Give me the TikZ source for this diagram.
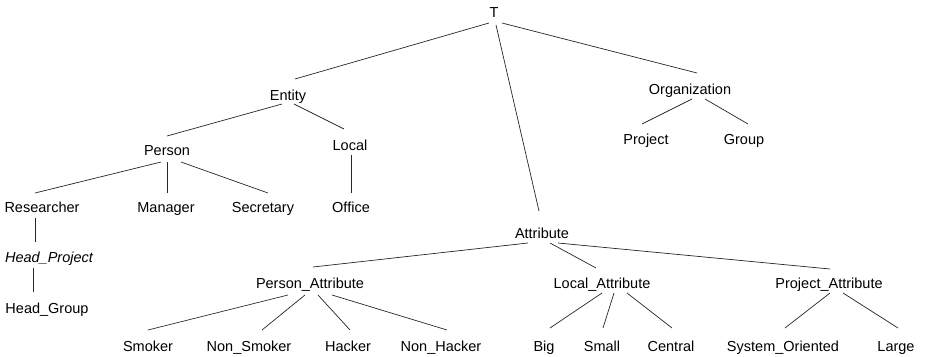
\documentclass[tikz,border=0pt]{standalone}
\usepackage{fontspec}
\setmainfont{Liberation Sans}
\usetikzlibrary{calc}
% connector between two named nodes, end points given relative to their baselines
\newcommand\treeedge[4]{\draw[link] ($(#1.base)+(#2)$) -- ($(#3.base)+(#4)$);}
\begin{document}
\begin{tikzpicture}[x=1pt,y=-1pt,
  concept/.style={anchor=base,inner sep=0pt,font=\fontsize{14.5}{17}\selectfont},
  link/.style={line width=0.7pt,black!85}]
\useasboundingbox (0,0) rectangle (926,356);
% top levels
\node[concept] (T)   at (494,17)  {T};
\node[concept] (ent) at (288,100) {Entity};
\node[concept] (org) at (690,94)  {Organization};
\node[concept] (per) at (167,155) {Person};
\node[concept] (loc) at (350,150) {Local};
\node[concept] (res) at (42,212)  {Researcher};
\node[concept] (man) at (166,212) {Manager};
\node[concept] (sec) at (263,212) {Secretary};
\node[concept] (off) at (351,212) {Office};
\node[concept] (prj) at (646,144) {Project};
\node[concept] (grp) at (744,144) {Group};
\node[concept] (hp)  at (49,262)  {\itshape Head\_Project};
\node[concept] (hg)  at (47,313)  {Head\_Group};
% attributes
\node[concept] (att) at (542,238) {Attribute};
\node[concept] (pa)  at (310,288) {Person\_Attribute};
\node[concept] (la)  at (602,288) {Local\_Attribute};
\node[concept] (pra) at (829,288) {Project\_Attribute};
\node[concept] (smk) at (148,351) {Smoker};
\node[concept] (nsm) at (249,351) {Non\_Smoker};
\node[concept] (hck) at (348,351) {Hacker};
\node[concept] (nhk) at (441,351) {Non\_Hacker};
\node[concept] (big) at (544,351) {Big};
\node[concept] (sml) at (602,351) {Small};
\node[concept] (cen) at (671,351) {Central};
\node[concept] (sys) at (783,351) {System\_Oriented};
\node[concept] (lrg) at (896,351) {Large};
% connectors
\treeedge{T}{-5,6}{ent}{7,-21}
\treeedge{T}{2,8}{att}{-3,-27}
\treeedge{T}{8,6}{org}{7,-21}
\treeedge{ent}{-6,4}{per}{0,-19}
\treeedge{ent}{6,4}{loc}{-6,-21}
\treeedge{per}{-6,7}{res}{-7,-19}
\treeedge{per}{0,7}{man}{1,-19}
\treeedge{per}{14,7}{sec}{5,-19}
\treeedge{loc}{1,5}{off}{0,-19}
\treeedge{org}{2,5}{prj}{-4,-20}
\treeedge{org}{15,5}{grp}{4,-20}
\treeedge{res}{-7,6}{hp}{-14,-20}
\treeedge{hp}{-16,6}{hg}{-14,-21}
\treeedge{att}{-14,5}{pa}{3,-21}
\treeedge{att}{8,5}{la}{-6,-20}
\treeedge{att}{16,5}{pra}{1,-19}
\treeedge{pa}{-22,7}{smk}{0,-21}
\treeedge{pa}{-5,7}{nsm}{13,-21}
\treeedge{pa}{8,7}{hck}{2,-21}
\treeedge{pa}{22,7}{nhk}{6,-21}
\treeedge{la}{0,5}{big}{6,-23}
\treeedge{la}{12,5}{sml}{1,-23}
\treeedge{la}{25,5}{cen}{1,-23}
\treeedge{pra}{1,5}{sys}{2,-23}
\treeedge{pra}{14,5}{lrg}{2,-23}
\end{tikzpicture}
\end{document}
